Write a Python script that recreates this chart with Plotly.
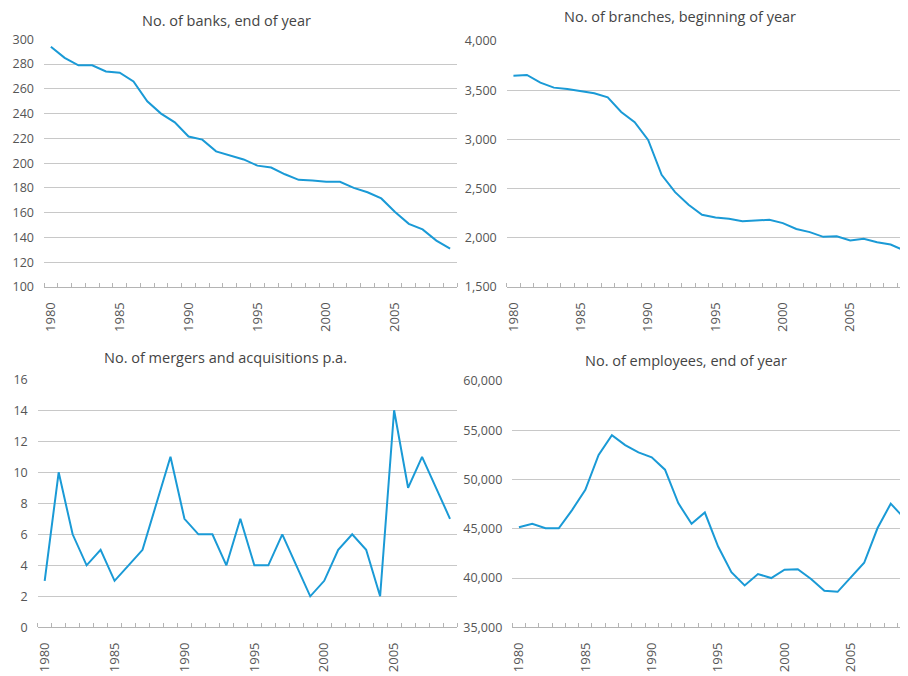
import plotly.graph_objects as go

years = list(range(1980, 2010))

banks = [294, 285, 279, 279, 274, 273, 266, 250, 240, 233, 221.5, 219, 209.5, 206, 203,
         198, 196.5, 191, 186.5, 186, 185, 185, 180, 176.5, 171.5, 160.5, 151, 146.5, 137.5, 131]

branches = [3648, 3655, 3577, 3526, 3513, 3492, 3469, 3428, 3279, 3175, 2995, 2640, 2464, 2336, 2234,
            2207, 2193, 2168, 2176, 2183, 2149, 2089, 2058, 2010, 2016, 1972, 1990, 1955, 1932, 1872]

mergers = [3, 10, 6, 4, 5, 3, 4, 5, 8, 11, 7, 6, 6, 4, 7, 4, 4, 6, 4, 2, 3, 5, 6, 5, 2, 14, 9, 11, 9, 7]

employees = [45150, 45500, 45050, 45050, 46900, 48950, 52500, 54500, 53500, 52750, 52250, 51000, 47600, 45500, 46650,
             43200, 40600, 39250, 40400, 40000, 40850, 40900, 39900, 38700, 38600, 40050, 41550, 45050, 47550, 46100]

titles = ["No. of banks, end of year", "No. of branches, beginning of year",
          "No. of mergers and acquisitions p.a.", "No. of employees, end of year"]

OFF = 8  # default page body margin
W, H = 908 - OFF, 676 - OFF
BLUE = "#1a9ad6"
GRID = "#c8c8c8"
TXT = "#555555"
FONT = "Open Sans"

# pixel boxes in page coordinates: (x0, x1, ytop, ybottom)
boxes = [(44, 457, 39.3, 287), (506.7, 908, 41, 287), (37.7, 457, 379.3, 627.3), (512.3, 908, 381, 627.3)]
xr = [[1979.5, 2009.5], [1979.5, 2009.29], [1979.5, 2009.5], [1979.5, 2009.3]]
yr = [[100, 300], [1500, 4000], [0, 16], [35000, 60000]]
ydt = [20, 500, 2, 5000]
series = [banks, branches, mergers, employees]
title_pos = [(226, 20), (680, 17), (225.5, 357), (686, 360)]

fig = go.Figure()
layout = dict(width=W, height=H, margin=dict(l=0, r=0, t=0, b=0, autoexpand=False), autosize=False,
              paper_bgcolor="white", plot_bgcolor="white", showlegend=False,
              font=dict(family=FONT, color=TXT))
annotations = []
for i in range(4):
    sx = "" if i == 0 else str(i + 1)
    x0, x1, yt, yb = [v - OFF for v in boxes[i]]
    fig.add_trace(go.Scatter(x=years, y=series[i], mode="lines",
                             line=dict(color=BLUE, width=2), xaxis="x" + sx, yaxis="y" + sx,
                             hoverinfo="skip", cliponaxis=False))
    layout["xaxis" + sx] = dict(domain=[x0 / W, min(x1 / W, 1.0)], range=xr[i], anchor="y" + sx,
                                 automargin=False,
                                 tickvals=[1980, 1985, 1990, 1995, 2000, 2005],
                                 ticktext=["1980", "1985", "1990", "1995", "2000", "2005"],
                                 tickangle=-90, ticks="", showgrid=False, zeroline=False,
                                 showline=True, linecolor="#b4b4b4", linewidth=1,
                                 tickfont=dict(size=13, color=TXT, family=FONT),
                                 ticklabelstandoff=9,
                                 minor=dict(ticks="inside", ticklen=4, tickcolor="#b4b4b4",
                                            tick0=1979.5, dtick=1, showgrid=False))
    layout["yaxis" + sx] = dict(domain=[1 - yb / H, 1 - yt / H], range=yr[i], anchor="x" + sx,
                                 automargin=False,
                                 dtick=ydt[i], tick0=0, showgrid=True, gridcolor=GRID, gridwidth=1,
                                 zeroline=False, showline=False, ticks="",
                                 tickformat=",d", separatethousands=True,
                                 tickfont=dict(size=12.5, color=TXT, family=FONT),
                                 ticklabelstandoff=9)
    tx, ty = title_pos[i]
    annotations.append(dict(text=titles[i], x=(tx - OFF) / W, y=1 - (ty - OFF) / H,
                            xref="paper", yref="paper",
                            xanchor="center", yanchor="middle", showarrow=False,
                            font=dict(size=14.5, color="#444444", family=FONT)))
layout["annotations"] = annotations
fig.update_layout(**layout)
fig.write_html("out.html")
